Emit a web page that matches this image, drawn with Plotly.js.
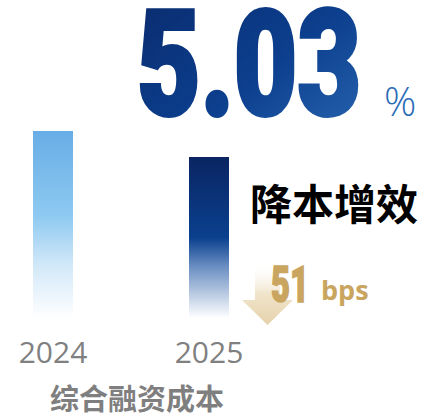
<!DOCTYPE html>
<html>
<head>
<meta charset="utf-8">
<script src="https://cdn.plot.ly/plotly-3.0.1.min.js"></script>
<style>
  html, body { margin: 0; padding: 0; background: #ffffff; }
  #chart { width: 424px; height: 418px; }
</style>
</head>
<body>
<svg id="gdefs" width="0" height="0" style="position:absolute;left:0;top:0">
  <defs>
    <linearGradient id="gText" x1="0" y1="0" x2="1" y2="1">
      <stop offset="0" stop-color="#0a2a6c"/>
      <stop offset="0.55" stop-color="#0c3f8e"/>
      <stop offset="1" stop-color="#2a68b2"/>
    </linearGradient>
    <linearGradient id="gArrow" x1="0" y1="0" x2="0" y2="1">
      <stop offset="0" stop-color="#ffffff" stop-opacity="0"/>
      <stop offset="0.5" stop-color="#f0e4cb"/>
      <stop offset="1" stop-color="#e6d2ab"/>
    </linearGradient>
  </defs>
</svg>
<div id="chart"></div>
<script>
// ---- data ----
const years = ['2024', '2025'];
const rates = [5.54, 5.03];
const rateUnit = '%';
const headline = '降本增效';
const axisTitle = '综合融资成本';
const bpsUnit = 'bps';

const bpsDrop = Math.round((rates[0] - rates[1]) * 100);

// gradient stops per bar (top -> bottom)
const barStops = [
  [[0, '#68ade6'], [0.45, '#8dc9f1'], [0.72, '#d2e8f8'], [1, '#ffffff']],
  [[0, '#0a2562'], [0.5, '#0a408e'], [0.68, '#6a8ec2'], [1, '#ffffff']]
];

const W = 274, PB = 318, PH = 308;
const px = v => v / W;
const py = v => (PB - v) / PH;

const trace = {
  type: 'bar',
  x: years,
  y: rates,
  width: 0.2564,
  marker: { color: ['#8dc9f1', '#0a408e'], line: { width: 0 } },
  hoverinfo: 'skip'
};

const heavy = 'Roboto, sans-serif';

// target rendered widths (px) and stroke thickening for the condensed number texts
const condensedStyle = {};
condensedStyle[rates[0].toFixed(2) + rateUnit] = { w: 77, sw: 1.2 };
condensedStyle[rates[1].toFixed(2)] = { w: 227, sw: 4 };
condensedStyle[String(bpsDrop)] = { w: 39, sw: 1.6 };

const layout = {
  width: 424,
  height: 418,
  margin: { l: 0, r: 150, t: 10, b: 100, pad: 0 },
  paper_bgcolor: '#ffffff',
  plot_bgcolor: '#ffffff',
  showlegend: false,
  bargap: 0,
  xaxis: {
    type: 'category',
    range: [-0.3397, 1.4167],
    showgrid: false, zeroline: false, showline: false, ticks: '',
    ticklabelstandoff: 14,
    tickfont: { family: 'Open Sans, sans-serif', size: 30, color: '#808080' },
    title: {
      text: axisTitle,
      font: { family: 'Noto Sans CJK SC, sans-serif', size: 29, color: '#7f7f7f', weight: 700 },
      standoff: 30
    }
  },
  yaxis: { range: [1.94, 7.868], visible: false, fixedrange: true },
  shapes: [{
    type: 'path', xref: 'paper', yref: 'paper', layer: 'below',
    path: 'M ' + px(255) + ' ' + py(262) + ' L ' + px(280) + ' ' + py(262) +
          ' L ' + px(280) + ' ' + py(300) + ' L ' + px(293) + ' ' + py(300) +
          ' L ' + px(267.5) + ' ' + py(325) + ' L ' + px(242) + ' ' + py(300) +
          ' L ' + px(255) + ' ' + py(300) + ' Z',
    fillcolor: '#e6d2ab', line: { width: 0 }
  }],
  annotations: [
    { text: rates[0].toFixed(2) + rateUnit, xref: 'x', yref: 'y', x: years[0], y: rates[0],
      yanchor: 'bottom', yshift: 5, showarrow: false,
      font: { family: heavy, size: 39, color: '#808080', weight: 900 } },
    { text: rates[1].toFixed(2), xref: 'paper', yref: 'paper', x: px(248.5), y: py(66),
      xanchor: 'center', yanchor: 'middle', showarrow: false,
      font: { family: heavy, size: 146, color: '#0c3f8e', weight: 900 } },
    { text: rateUnit, xref: 'paper', yref: 'paper', x: px(400), y: py(101),
      xanchor: 'center', yanchor: 'middle', showarrow: false,
      font: { family: 'Open Sans, sans-serif', size: 40, color: '#2b6cb8', weight: 300 } },
    { text: headline, xref: 'paper', yref: 'paper', x: px(334), y: py(201),
      xanchor: 'center', yanchor: 'middle', showarrow: false,
      font: { family: 'Noto Sans CJK SC, sans-serif', size: 42, color: '#000000', weight: 700 } },
    { text: String(bpsDrop), xref: 'paper', yref: 'paper', x: px(290), y: py(285),
      xanchor: 'center', yanchor: 'middle', showarrow: false,
      font: { family: heavy, size: 50, color: '#c9a55f', weight: 900 } },
    { text: bpsUnit, xref: 'paper', yref: 'paper', x: px(344.5), y: py(289),
      xanchor: 'center', yanchor: 'middle', showarrow: false,
      font: { family: 'Open Sans, sans-serif', size: 27, color: '#c9a55f', weight: 700 } }
  ]
};

const gd = document.getElementById('chart');
Plotly.newPlot(gd, [trace], layout, { staticPlot: true, displayModeBar: false }).then(() => {
  const NS = 'http://www.w3.org/2000/svg';
  const defs = document.querySelector('#gdefs defs');
  const h = gd._fullLayout._size.h;
  const paths = gd.querySelectorAll('.barlayer .point path');
  paths.forEach((p, i) => {
    const bb = p.getBBox();
    const top = Math.max(bb.y, 0);
    const bot = Math.min(bb.y + bb.height, h);
    const g = document.createElementNS(NS, 'linearGradient');
    g.setAttribute('id', 'gBar' + i);
    g.setAttribute('gradientUnits', 'userSpaceOnUse');
    g.setAttribute('x1', 0); g.setAttribute('x2', 0);
    g.setAttribute('y1', top); g.setAttribute('y2', bot);
    barStops[i].forEach(s => {
      const st = document.createElementNS(NS, 'stop');
      st.setAttribute('offset', s[0]);
      st.setAttribute('stop-color', s[1]);
      g.appendChild(st);
    });
    defs.appendChild(g);
    p.style.fill = 'url(#gBar' + i + ')';
  });
  gd.querySelectorAll('.annotation-text').forEach(t => {
    const txt = t.textContent;
    const cs = condensedStyle[txt];
    if (!cs) return;
    const paint = txt === rates[1].toFixed(2) ? 'url(#gText)' : t.style.fill;
    t.style.fill = paint;
    t.style.stroke = paint;
    t.style.strokeWidth = cs.sw;
    t.style.strokeLinejoin = 'miter';
    const bw = t.getBBox().width + cs.sw;
    const s = cs.w / bw;
    t.style.transformBox = 'fill-box';
    t.style.transformOrigin = 'center';
    t.style.transform = 'scaleX(' + s + ')';
  });
  gd.querySelectorAll('.shapelayer path').forEach(p => { p.style.fill = 'url(#gArrow)'; });
});
</script>
</body>
</html>
